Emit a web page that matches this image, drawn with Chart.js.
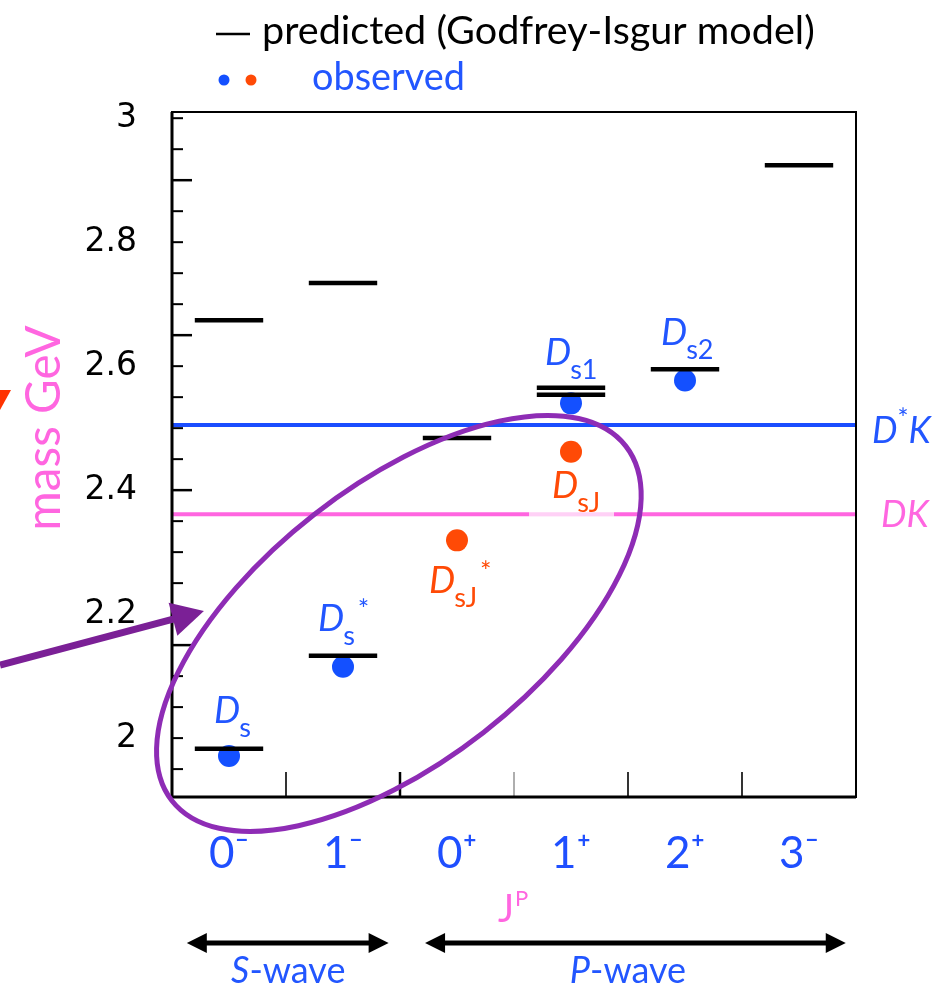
<!DOCTYPE html>
<html><head><meta charset="utf-8">
<script src="https://cdn.jsdelivr.net/npm/chart.js@4.4.1/dist/chart.umd.min.js"></script>
<style>html,body{margin:0;padding:0;background:#fff}#wrap{width:941px;height:989px}</style>
</head><body><div id="wrap"><canvas id="c" width="941" height="989"></canvas></div>
<script>
// ---- data ----
const categories = ['0⁻', '1⁻', '0⁺', '1⁺', '2⁺', '3⁻'];
const predictedCategory = [0, 0, 1, 1, 2, 3, 3, 4, 5];
const predictedMass = [1.983, 2.674, 2.133, 2.734, 2.484, 2.554, 2.565, 2.595, 2.924];
const observedBlueCategory = [0, 1, 3, 4];
const observedBlueMass = [1.971, 2.115, 2.540, 2.577];
const observedBlueSub = ['s', 's', 's1', 's2'];
const observedBlueSup = ['', '*', '', ''];
const observedRedCategory = [2, 3];
const observedRedMass = [2.319, 2.462];
const observedRedSub = ['sJ', 'sJ'];
const observedRedSup = ['*', ''];
const thresholdName = ['D*K', 'DK'];
const thresholdMass = [2.505, 2.361];
const yTickValues = [2, 2.2, 2.4, 2.6, 2.8, 3];
const yTickLabels = ['2', '2.2', '2.4', '2.6', '2.8', '3'];

// ---- colours ----
const BLUE = '#1450ff', RED = '#ff4a06', PINK = '#ff66e0', TXTBLUE = '#2256ff', PURPLE = '#8e2cb5';

const predictedSegments = [];
predictedMass.forEach((m, i) => {
  const c = predictedCategory[i];
  predictedSegments.push({x: c - 0.3, y: m}, {x: c + 0.3, y: m}, {x: c + 0.3, y: null});
});
const bluePts = observedBlueMass.map((m, i) => ({x: observedBlueCategory[i], y: m}));
const redPts = observedRedMass.map((m, i) => ({x: observedRedCategory[i], y: m}));

function txt(ctx, s, x, y, font, color, align, base) {
  ctx.font = font; ctx.fillStyle = color;
  ctx.textAlign = align || 'left'; ctx.textBaseline = base || 'alphabetic';
  ctx.fillText(s, x, y);
  return ctx.measureText(s).width;
}
function fitFont(ctx, s, target, family, weight) {
  ctx.font = (weight || '') + ' 40px ' + family;
  const w = ctx.measureText(s).width;
  return 40 * target / w;
}
function arrowHead(ctx, tx, ty, ang, len, hw) {
  ctx.beginPath();
  ctx.moveTo(tx, ty);
  ctx.lineTo(tx - len * Math.cos(ang) + hw * Math.sin(ang), ty - len * Math.sin(ang) - hw * Math.cos(ang));
  ctx.lineTo(tx - len * Math.cos(ang) - hw * Math.sin(ang), ty - len * Math.sin(ang) + hw * Math.cos(ang));
  ctx.closePath(); ctx.fill();
}
// particle label: italic D + subscript + optional superscript
function particle(ctx, px, py, dx, dy, sub, sup, color) {
  const x0 = px + dx, b = py + dy;
  const w = txt(ctx, 'D', x0, b, 'italic 37px Lato', color);
  const ws = txt(ctx, sub, x0 + w - 1, b + 14, '27px Lato', color);
  if (sup) txt(ctx, sup, x0 + w + ws + 2, b - 12, '27px Lato', color);
}

const overlay = {
  id: 'overlay',
  afterDatasetsDraw(chart) {
    const {ctx, chartArea: a, scales: {x, y}} = chart;
    ctx.save();
    // inside ticks on the y axis
    y.ticks.forEach(t => {
      const py = y.getPixelForValue(t.value);
      const major = [2.15, 2.4, 2.65, 2.9].some(v => Math.abs(v - t.value) < 1e-6);
      ctx.strokeStyle = '#000'; ctx.lineWidth = major ? 2.5 : 2;
      ctx.beginPath(); ctx.moveTo(a.left, py); ctx.lineTo(a.left + (major ? 20 : 11), py); ctx.stroke();
    });
    // inside ticks on the x axis (category boundaries)
    for (let i = 0; i < categories.length - 1; i++) {
      const px = x.getPixelForValue(i + 0.5);
      ctx.strokeStyle = i === 2 ? '#9a9a9a' : '#000';
      ctx.lineWidth = i === 1 ? 2.5 : 1.6;
      ctx.beginPath(); ctx.moveTo(px, a.bottom); ctx.lineTo(px, a.bottom - 25); ctx.stroke();
    }
    // frame
    ctx.strokeStyle = '#000'; ctx.lineWidth = 2;
    ctx.strokeRect(a.left, a.top, a.right - a.left, a.bottom - a.top);
    ctx.lineWidth = 3;
    ctx.beginPath(); ctx.moveTo(a.left, a.top); ctx.lineTo(a.left, a.bottom); ctx.lineTo(a.right, a.bottom); ctx.stroke();

    // particle labels
    const blueOff = [[-15, -33], [-25, -36], [-26, -38], [-24, -35]];
    bluePts.forEach((p, i) => {
      particle(ctx, x.getPixelForValue(p.x), y.getPixelForValue(p.y), blueOff[i][0], blueOff[i][1], observedBlueSub[i], observedBlueSup[i], TXTBLUE);
    });
    const redOff = [[-28, 53], [-19, 46]];
    redPts.forEach((p, i) => {
      const px = x.getPixelForValue(p.x), py = y.getPixelForValue(p.y);
      if (i === 1) { // white box behind the label crossing the DK line
        ctx.fillStyle = 'rgba(255,255,255,0.7)';
        const ly = y.getPixelForValue(thresholdMass[1]);
        ctx.fillRect(px - 42, ly - 2.5, 85, 5);
      }
      particle(ctx, px, py, redOff[i][0], redOff[i][1], observedRedSub[i], observedRedSup[i], RED);
    });

    // threshold labels at right
    const yDK1 = y.getPixelForValue(thresholdMass[0]);
    let w = txt(ctx, 'D', a.right + 16, yDK1 + 18, 'italic 36px Lato', TXTBLUE);
    const ws = txt(ctx, '*', a.right + 16 + w, yDK1 + 3, '26px Lato', TXTBLUE);
    txt(ctx, 'K', a.right + 16 + w + ws, yDK1 + 18, 'italic 36px Lato', TXTBLUE);
    const yDK2 = y.getPixelForValue(thresholdMass[1]);
    w = txt(ctx, 'D', a.right + 25, yDK2 + 13, 'italic 36px Lato', PINK);
    txt(ctx, 'K', a.right + 25 + w, yDK2 + 13, 'italic 36px Lato', PINK);

    // purple ellipse
    ctx.strokeStyle = PURPLE; ctx.lineWidth = 5;
    ctx.beginPath();
    ctx.ellipse(x.getPixelForValue(1.49), y.getPixelForValue(2.185), 288, 138, -38 * Math.PI / 180, 0, Math.PI * 2);
    ctx.stroke();
    // purple arrow
    const tx = x.getPixelForValue(-0.22), ty = y.getPixelForValue(2.205);
    const sx = 0, sy = ty + 54;
    const ang = Math.atan2(ty - sy, tx - sx);
    ctx.strokeStyle = '#7b2096'; ctx.fillStyle = '#7b2096'; ctx.lineWidth = 7;
    ctx.beginPath(); ctx.moveTo(sx, sy); ctx.lineTo(tx - 25 * Math.cos(ang), ty - 25 * Math.sin(ang)); ctx.stroke();
    arrowHead(ctx, tx, ty, ang, 32, 17);
    // red arrow tip cut by the left edge
    ctx.fillStyle = '#ff3300';
    ctx.beginPath(); ctx.moveTo(0, 390); ctx.lineTo(11, 390); ctx.lineTo(0, 410); ctx.closePath(); ctx.fill();
    ctx.restore();
  },
  afterDraw(chart) {
    const {ctx, chartArea: a, scales: {x}} = chart;
    ctx.save();
    // legend
    ctx.strokeStyle = '#000'; ctx.lineWidth = 2.5;
    ctx.beginPath(); ctx.moveTo(216, 34); ctx.lineTo(250, 34); ctx.stroke();
    const l1 = 'predicted (Godfrey-Isgur model)';
    const fs = fitFont(ctx, l1, 553, 'Lato');
    txt(ctx, l1, 262, 44, fs + 'px Lato', '#000');
    ctx.fillStyle = BLUE; ctx.beginPath(); ctx.arc(224, 80, 5.5, 0, Math.PI * 2); ctx.fill();
    ctx.fillStyle = RED; ctx.beginPath(); ctx.arc(251, 80, 5.5, 0, Math.PI * 2); ctx.fill();
    const fs2 = fitFont(ctx, 'observed', 153, 'Lato');
    txt(ctx, 'observed', 312, 90, fs2 + 'px Lato', TXTBLUE);

    // y title
    ctx.save();
    ctx.translate(60, 428); ctx.rotate(-Math.PI / 2);
    const fs3 = fitFont(ctx, 'mass GeV', 205, 'Lato');
    txt(ctx, 'mass GeV', 0, 0, fs3 + 'px Lato', PINK, 'center', 'alphabetic');
    ctx.restore();

    // J^P
    const jx = x.getPixelForValue(2.36);
    const jw = txt(ctx, 'J', jx, 922, '38px Lato', PINK);
    txt(ctx, 'P', jx + jw + 1, 906, '22px Lato', PINK);

    // S-wave / P-wave arrows
    ctx.strokeStyle = '#000'; ctx.fillStyle = '#000'; ctx.lineWidth = 5;
    const ay = 943;
    [[-0.37, 1.4], [1.72, 5.41]].forEach(([u, v]) => {
      const p1 = x.getPixelForValue(u), p2 = x.getPixelForValue(v);
      ctx.beginPath(); ctx.moveTo(p1 + 10, ay); ctx.lineTo(p2 - 10, ay); ctx.stroke();
      arrowHead(ctx, p1, ay, Math.PI, 20, 10);
      arrowHead(ctx, p2, ay, 0, 20, 10);
    });
    // captions
    function caption(letter, cx) {
      ctx.font = 'italic 36px Lato'; const w1 = ctx.measureText(letter).width;
      ctx.font = '36px Lato'; const w2 = ctx.measureText('-wave').width;
      const x0 = cx - (w1 + w2) / 2;
      txt(ctx, letter, x0, 983, 'italic 36px Lato', TXTBLUE);
      txt(ctx, '-wave', x0 + w1, 983, '36px Lato', TXTBLUE);
    }
    caption('S', x.getPixelForValue(0.52));
    caption('P', x.getPixelForValue(3.5));
    ctx.restore();
  }
};

new Chart(document.getElementById('c'), {
  type: 'scatter',
  data: {
    datasets: [
      {label: 'predicted (Godfrey-Isgur model)', type: 'line', data: predictedSegments, borderColor: '#000',
       borderWidth: 4.5, pointRadius: 0, spanGaps: false, borderCapStyle: 'butt', order: 0},
      {label: 'observed', data: bluePts, backgroundColor: BLUE, borderWidth: 0, pointRadius: 11, pointHoverRadius: 11, order: 1},
      {label: 'observed (new)', data: redPts, backgroundColor: RED, borderWidth: 0, pointRadius: 11, pointHoverRadius: 11, order: 1},
      {label: thresholdName[0], type: 'line', data: [{x: -0.5, y: thresholdMass[0]}, {x: 5.5, y: thresholdMass[0]}],
       borderColor: '#1a4dff', borderWidth: 4, pointRadius: 0, order: 2},
      {label: thresholdName[1], type: 'line', data: [{x: -0.5, y: thresholdMass[1]}, {x: 5.5, y: thresholdMass[1]}],
       borderColor: PINK, borderWidth: 4, pointRadius: 0, order: 2}
    ]
  },
  options: {
    responsive: false, animation: false, devicePixelRatio: 1,
    layout: {padding: {top: 112, right: 85, left: 0, bottom: 0}},
    plugins: {legend: {display: false}, tooltip: {enabled: false}},
    events: [],
    scales: {
      x: {
        type: 'linear', min: -0.5, max: 5.5,
        afterBuildTicks: s => { s.ticks = categories.map((_, i) => ({value: i})); },
        afterFit: s => { s.height = 192; },
        ticks: {callback: v => categories[v] ?? '', font: {family: 'Lato', size: 44}, color: '#1f4fff',
                padding: 30, autoSkip: false, maxRotation: 0},
        grid: {display: false, drawTicks: false}, border: {display: false}
      },
      y: {
        type: 'linear', min: 1.905, max: 3.01,
        afterBuildTicks: s => {
          const t = [];
          for (let k = 0; k <= 21; k++) t.push({value: Math.round((1.95 + 0.05 * k) * 1000) / 1000});
          s.ticks = t;
        },
        afterFit: s => { s.width = 172; },
        ticks: {callback: v => { const i = yTickValues.findIndex(l => Math.abs(l - v) < 1e-6); return i >= 0 ? yTickLabels[i] : ''; },
                font: {family: 'DejaVu Sans', size: 33}, color: '#000', padding: 35, autoSkip: false},
        grid: {display: false, drawTicks: false}, border: {display: false}
      }
    }
  },
  plugins: [overlay]
});
</script>
</body></html>
